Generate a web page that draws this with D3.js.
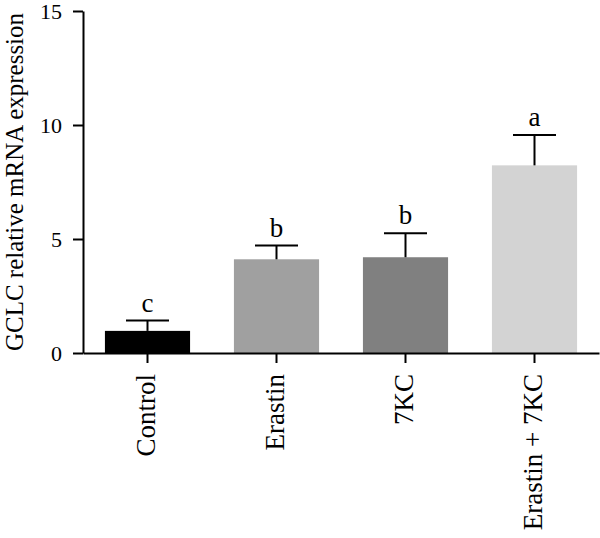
<!DOCTYPE html>
<html>
<head>
<meta charset="utf-8">
<script src="https://cdn.jsdelivr.net/npm/d3@7"></script>
<style>
  html, body { margin: 0; padding: 0; background: #fff; }
  svg { display: block; }
  text { font-family: "Liberation Serif", "DejaVu Serif", serif; fill: #000; }
</style>
</head>
<body>
<svg id="chart" width="600" height="538"></svg>
<script>
const categories = ["Control", "Erastin", "7KC", "Erastin + 7KC"];
const means = [0.97, 4.11, 4.2, 8.23];
const errors = [0.45, 0.6, 1.05, 1.33];
const letters = ["c", "b", "b", "a"];
const colors = ["#000000", "#a0a0a0", "#808080", "#d3d3d3"];
const yTicks = [0, 5, 10, 15];
const yLabel = "GCLC relative mRNA expression";

const FONT = "Liberation Serif, DejaVu Serif, serif";
const svg = d3.select("#chart");
const x0 = 83, x1 = 599, yTop = 11, yBot = 353;

const x = d3.scaleBand().domain(categories).range([x0, x1])
  .paddingInner(0.34).paddingOuter(0.17);
const y = d3.scaleLinear().domain([0, 15]).range([yBot, yTop]);

// bars
svg.append("g").selectAll("rect").data(categories).join("rect")
  .attr("x", d => x(d))
  .attr("width", x.bandwidth())
  .attr("y", (d, i) => y(means[i]))
  .attr("height", (d, i) => y(0) - y(means[i]))
  .attr("fill", (d, i) => colors[i]);

// error bars
const capHalf = 21.5;
const eg = svg.append("g").attr("stroke", "#000").attr("stroke-width", 2);
categories.forEach((c, i) => {
  const cx = x(c) + x.bandwidth() / 2;
  eg.append("line").attr("x1", cx).attr("x2", cx)
    .attr("y1", y(means[i])).attr("y2", y(means[i] + errors[i]));
  eg.append("line").attr("x1", cx - capHalf).attr("x2", cx + capHalf)
    .attr("y1", y(means[i] + errors[i])).attr("y2", y(means[i] + errors[i]));
});

// significance letters
svg.append("g").selectAll("text").data(categories).join("text")
  .attr("x", d => x(d) + x.bandwidth() / 2)
  .attr("y", (d, i) => y(means[i] + errors[i]) - 9)
  .attr("text-anchor", "middle")
  .attr("font-size", 27)
  .text((d, i) => letters[i]);

// y axis
const yAxis = svg.append("g").attr("transform", `translate(${x0},0)`)
  .call(d3.axisLeft(y).tickValues(yTicks).tickSize(10).tickPadding(11).tickSizeOuter(0));
yAxis.select(".domain").attr("stroke-width", 2);
yAxis.selectAll(".tick line").attr("stroke-width", 2);
yAxis.selectAll(".tick text").attr("font-size", 22).attr("dy", "0.36em").attr("font-family", FONT);

// x axis
const xAxis = svg.append("g").attr("transform", `translate(0,${yBot})`)
  .call(d3.axisBottom(x).tickSize(10).tickSizeOuter(0).tickPadding(0));
xAxis.select(".domain").attr("stroke-width", 2);
xAxis.selectAll(".tick line").attr("stroke-width", 2);
xAxis.selectAll(".tick text")
  .attr("font-size", 27)
  .attr("font-family", FONT)
  .attr("text-anchor", "end")
  .attr("transform", "translate(0,21) rotate(-90)")
  .attr("x", 0).attr("y", 0).attr("dy", "0.27em");

// y label
svg.append("text")
  .attr("transform", `translate(23,${(yTop + yBot) / 2}) rotate(-90)`)
  .attr("text-anchor", "middle")
  .attr("font-size", 25)
  .text(yLabel);
</script>
</body>
</html>
